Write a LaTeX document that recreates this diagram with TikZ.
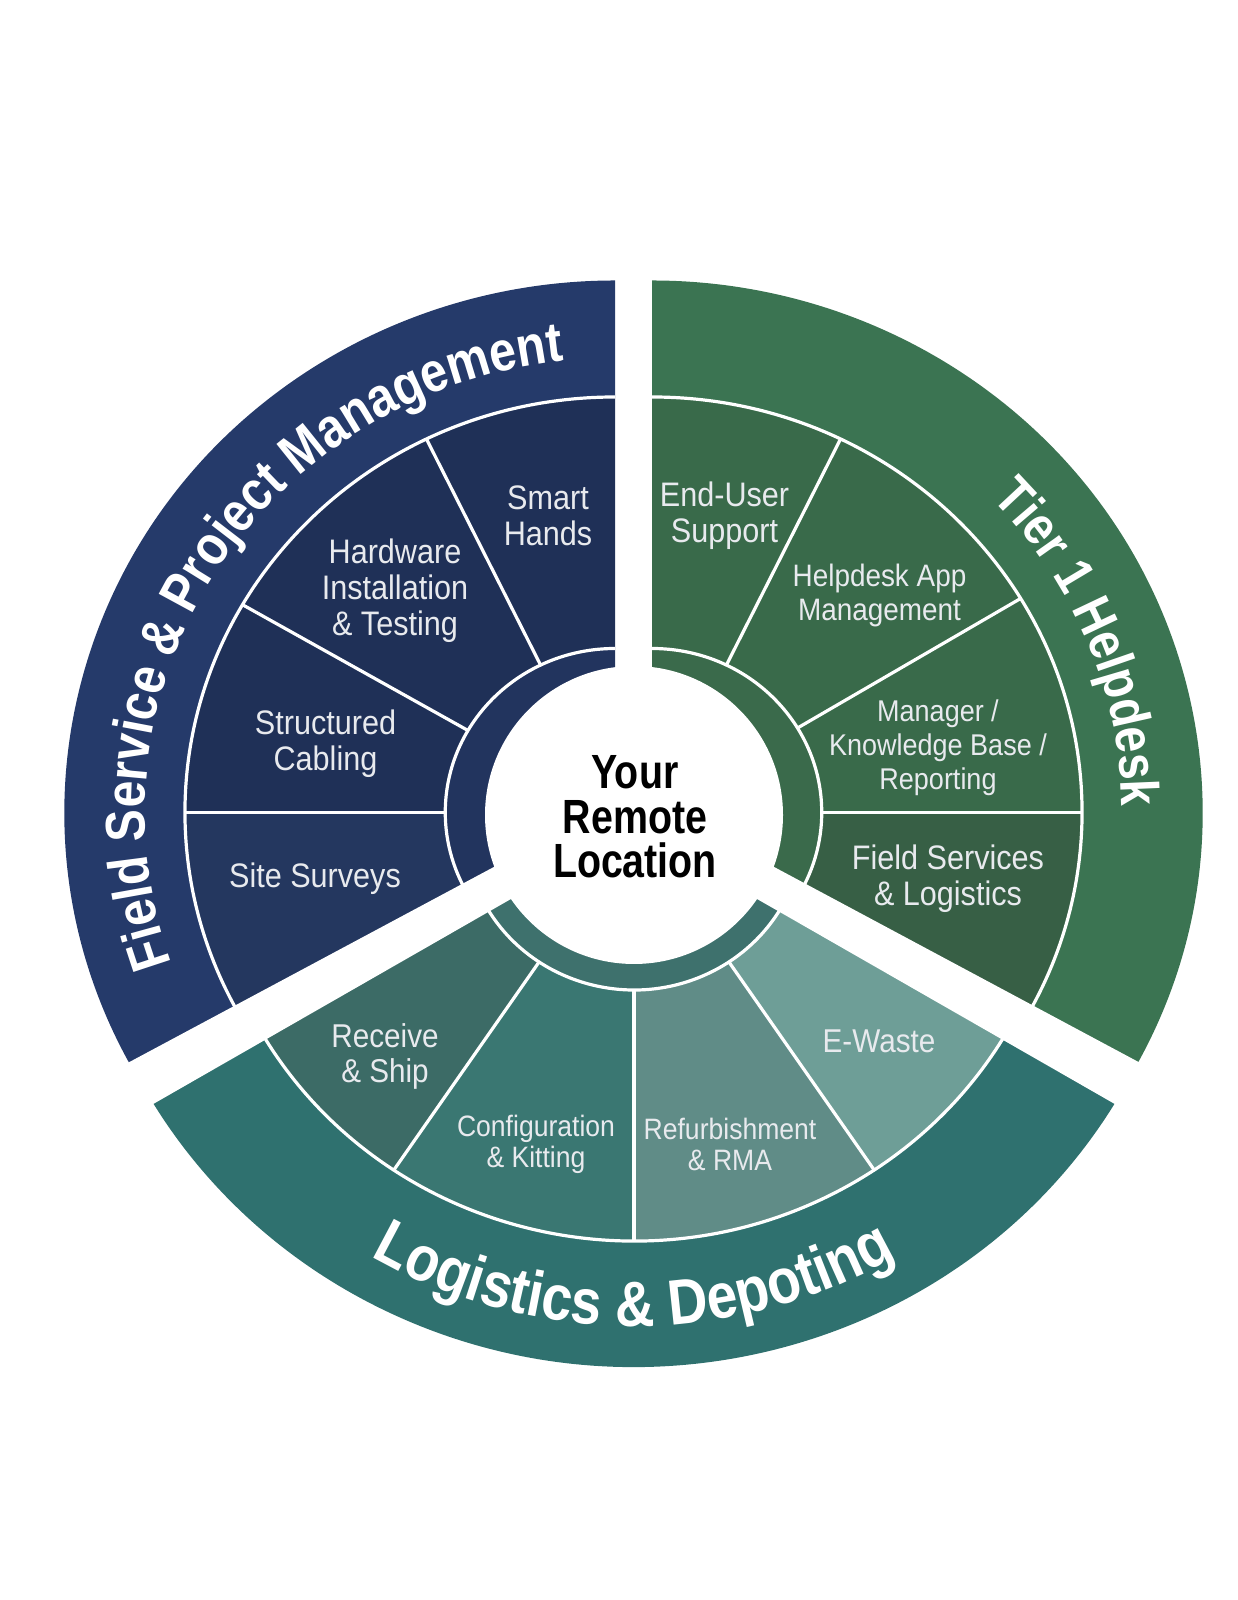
\documentclass[tikz,border=0pt]{standalone}
\usepackage{fontspec}
\usepackage{tikz}
\usetikzlibrary{decorations.text}

\newfontfamily\labfnt{Liberation Sans}[FakeStretch=0.9]
\newfontfamily\titlefnt{Liberation Sans}[FakeStretch=0.86]
\newfontfamily\hubfnt{Liberation Sans}[FakeStretch=0.82]

\definecolor{bandblue}{HTML}{253A6A}
\definecolor{segblue}{HTML}{1F3057}
\definecolor{segbluelt}{HTML}{24375F}
\definecolor{ringblue}{HTML}{22345E}
\definecolor{bandgreen}{HTML}{3B7452}
\definecolor{seggreen}{HTML}{396A4A}
\definecolor{seggreendk}{HTML}{375F45}
\definecolor{ringgreen}{HTML}{3A6A4B}
\definecolor{bandteal}{HTML}{2F716F}
\definecolor{tealrecv}{HTML}{3C6B66}
\definecolor{tealconf}{HTML}{3A7772}
\definecolor{tealrefb}{HTML}{608C87}
\definecolor{tealewst}{HTML}{6E9E97}
\definecolor{ringteal}{HTML}{3E716D}
\definecolor{labgray}{HTML}{E8EAEE}

\begin{document}
\begin{tikzpicture}[x=0.5pt, y=0.5pt,
    wline/.style={white, line width=1.6pt},
    lab/.style={text=labgray, align=center, font=\labfnt\fontsize{17}{18}\selectfont},
    labs/.style={lab, font=\labfnt\fontsize{15.5}{17}\selectfont},
    labxs/.style={lab, font=\labfnt\fontsize{14.75}{15.5}\selectfont}]

\useasboundingbox (0,0) rectangle (1237,1600);

%% field service (blue)
\begin{scope}[shift={(615,787.5)}, xscale=1.035]
    \fill[bandblue] (90:415.5) arc[start angle=90, end angle=212, radius=415.5]
        -- (212:532) arc[start angle=212, end angle=90, radius=532] -- cycle;
    \foreach \a/\b/\c in {90/116/segblue, 116/150/segblue, 150/180/segblue, 180/212/segbluelt}
        \fill[\c] (\a:164) arc[start angle=\a, end angle=\b, radius=164]
            -- (\b:415.5) arc[start angle=\b, end angle=\a, radius=415.5] -- cycle;
    \fill[ringblue] (0,0) -- (90:164) arc[start angle=90, end angle=212, radius=164] -- cycle;
    \draw[wline] (90:415.5) arc[start angle=90, end angle=212, radius=415.5];
    \draw[wline] (90:164) arc[start angle=90, end angle=212, radius=164];
    \foreach \a in {116, 150, 180}
        \draw[wline] (\a:164) -- (\a:415.5);
    \path[decorate, decoration={text along path, text align=center,
        text={|\titlefnt\bfseries\fontsize{28}{30}\selectfont\color{white}|Field Service {\&} Project Management}}]
        (214:454) arc[start angle=214, end angle=82, radius=454];
\end{scope}

%% helpdesk (green)
\begin{scope}[shift={(652,787.5)}, xscale=1.035]
    \fill[bandgreen] (90:415.5) arc[start angle=90, end angle=-32, radius=415.5]
        -- (-32:532) arc[start angle=-32, end angle=90, radius=532] -- cycle;
    \foreach \a/\b/\c in {90/64/seggreen, 64/31/seggreen, 31/0/seggreen, 0/-32/seggreendk}
        \fill[\c] (\a:164) arc[start angle=\a, end angle=\b, radius=164]
            -- (\b:415.5) arc[start angle=\b, end angle=\a, radius=415.5] -- cycle;
    \fill[ringgreen] (0,0) -- (90:164) arc[start angle=90, end angle=-32, radius=164] -- cycle;
    \draw[wline] (90:415.5) arc[start angle=90, end angle=-32, radius=415.5];
    \draw[wline] (90:164) arc[start angle=90, end angle=-32, radius=164];
    \foreach \a in {64, 31, 0}
        \draw[wline] (\a:164) -- (\a:415.5);
    \path[decorate, decoration={text along path, text align=center,
        text={|\titlefnt\bfseries\fontsize{27}{30}\selectfont\color{white}|Tier 1 Helpdesk}}]
        (68:454) arc[start angle=68, end angle=-24, radius=454];
\end{scope}

%% logistics (teal)
\begin{scope}[shift={(634,774)}, xscale=1.035]
    \fill[bandteal] (207:415) arc[start angle=207, end angle=333, radius=415]
        -- (333:541) arc[start angle=333, end angle=207, radius=541] -- cycle;
    \foreach \a/\b/\c in {207/236/tealrecv, 236/270/tealconf, 270/304/tealrefb, 304/333/tealewst}
        \fill[\c] (\a:164) arc[start angle=\a, end angle=\b, radius=164]
            -- (\b:415) arc[start angle=\b, end angle=\a, radius=415] -- cycle;
    \fill[ringteal] (0,0) -- (207:164) arc[start angle=207, end angle=333, radius=164] -- cycle;
    \draw[wline] (207:415) arc[start angle=207, end angle=333, radius=415];
    \draw[wline] (207:164) arc[start angle=207, end angle=333, radius=164];
    \foreach \a in {236, 270, 304}
        \draw[wline] (\a:164) -- (\a:415);
    \path[decorate, decoration={text along path, text align=center,
        text={|\titlefnt\bfseries\fontsize{32}{33}\selectfont\color{white}|Logistics {\&} Depoting}}]
        (220:500) arc[start angle=220, end angle=320, radius=500];
\end{scope}

%% gaps between the three parts
\fill[white] (560,768.4) -- (40,490.1) -- (40,431.1) -- (560,729.1) -- cycle;
\fill[white] (708,768.4) -- (1228,490.1) -- (1228,431.1) -- (708,729.1) -- cycle;

%% hub
\fill[white] (634,785) circle[radius=149];
\node[align=center, font=\hubfnt\bfseries\fontsize{24}{22.2}\selectfont] (hub) at (635,783) {Your\\Remote\\Location};

%% labels
\node[lab] (smart) at (548,1084) {Smart\\Hands};
\node[lab] (hardware) at (395,1009) {Hardware\\Installation\\\& Testing};
\node[lab] (cabling) at (325.5,856) {Structured\\Cabling};
\node[lab] (surveys) at (315,721) {Site Surveys};

\node[lab] (enduser) at (724.5,1084) {End-User\\Support};
\node[labs] (helpapp) at (879.5,1005) {Helpdesk App\\Management};
\node[labs, font=\labfnt\fontsize{15}{17}\selectfont] (manager) at (938,852) {Manager /\\Knowledge Base /\\Reporting};
\node[lab] (fieldsvc) at (948,721.5) {Field Services\\\& Logistics};

\node[lab, font=\labfnt\fontsize{16.5}{17.5}\selectfont] (receive) at (385,544) {Receive\\\& Ship};
\node[labxs] (config) at (536,456) {Configuration\\\& Kitting};
\node[labxs] (refurb) at (730,456) {Refurbishment\\\& RMA};
\node[lab, font=\labfnt\fontsize{16.5}{17.5}\selectfont] (ewaste) at (879,559) {E-Waste};

\end{tikzpicture}
\end{document}
